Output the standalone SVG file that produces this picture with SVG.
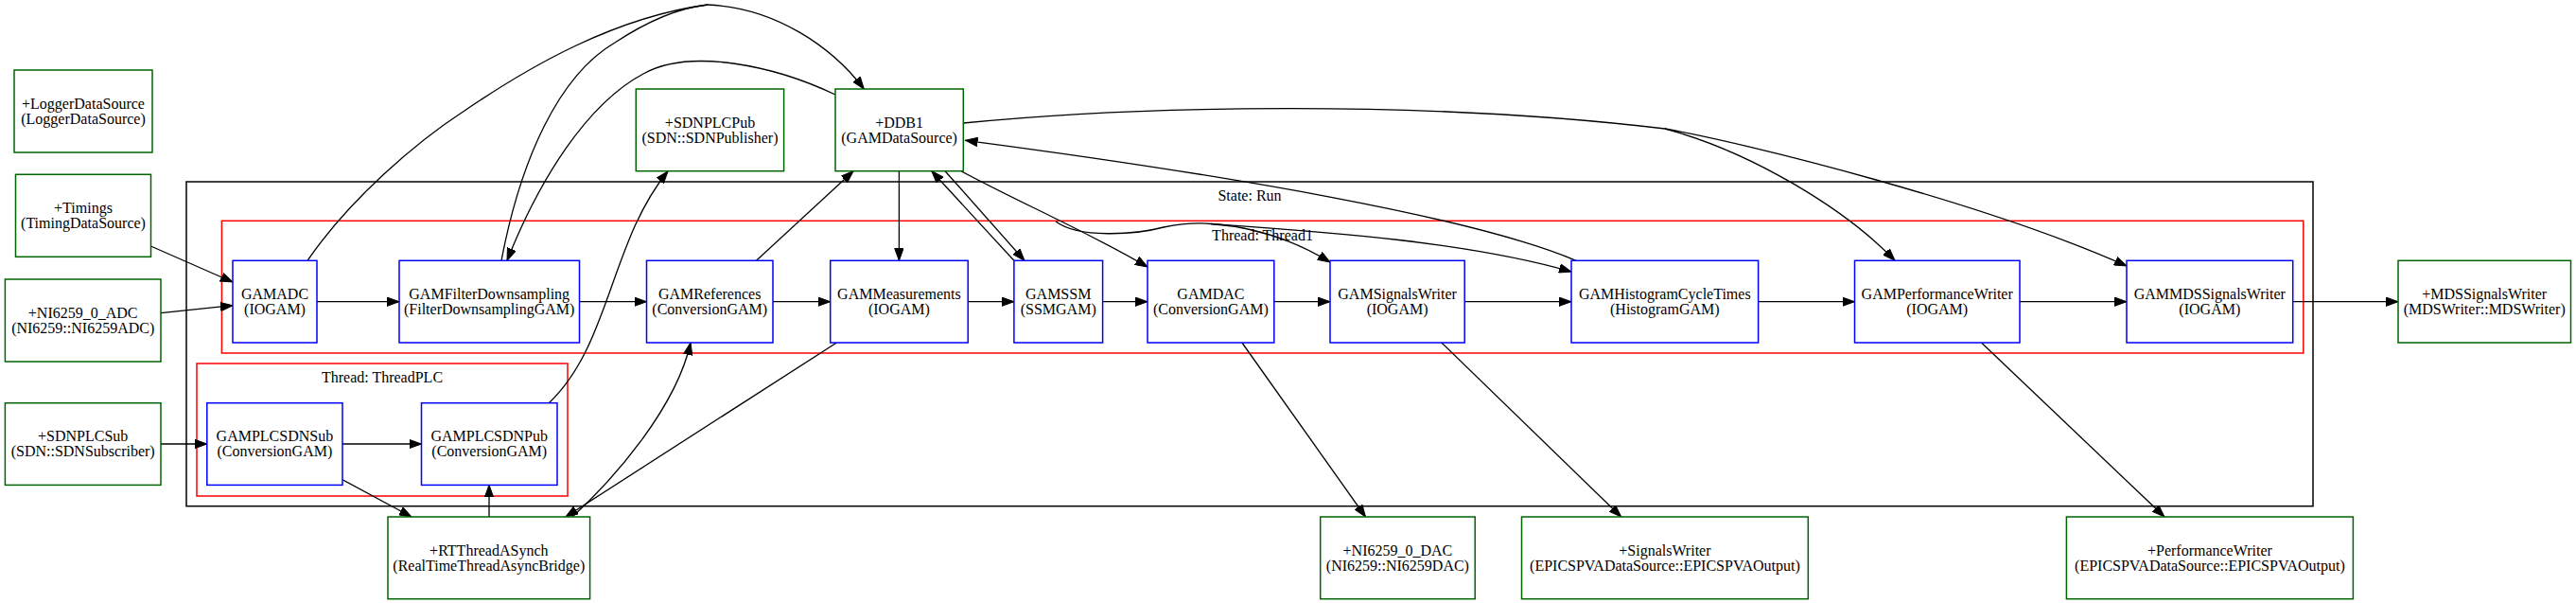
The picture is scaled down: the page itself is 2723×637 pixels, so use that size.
<svg xmlns="http://www.w3.org/2000/svg" width="2723" height="637" viewBox="0 0 2723 637">
<style>
text{font-family:"Liberation Serif","Times New Roman",serif;font-size:16px;fill:#000;text-anchor:middle}
.g{fill:#fff;stroke:#006400;stroke-width:1.5}
.b{fill:#fff;stroke:#0000ff;stroke-width:1.5}
.cl{fill:none;stroke-width:1.5}
.e{fill:none;stroke:#000;stroke-width:1.3}
.a{marker-end:url(#ah)}
</style>
<defs>
<marker id="ah" viewBox="0 0 14 10" markerWidth="14" markerHeight="10" refX="13" refY="5" orient="auto" markerUnits="userSpaceOnUse">
<path d="M0,0.3 L13,5 L0,9.7 z" fill="#000" stroke="#000" stroke-width="1"/>
</marker>
</defs>
<rect width="2723" height="637" fill="#fff"/>

<g id="cluster_run">
<rect class="cl" x="197" y="192" width="2248" height="342.7" stroke="#000"/>
<text x="1321" y="211.5">State: Run</text>
</g>
<g id="cluster_thread1">
<rect class="cl" x="234.4" y="233.3" width="2200.4" height="139.7" stroke="#ff0000"/>
<text x="1334.5" y="254">Thread: Thread1</text>
</g>
<g id="cluster_threadplc">
<rect class="cl" x="208" y="384" width="392" height="140" stroke="#ff0000"/>
<text x="404" y="404">Thread: ThreadPLC</text>
</g>

<g id="connectors">
<path class="e a" d="M159.4,260 L246,298"/>
<path class="e a" d="M170,330.7 L246,322.7"/>
<path class="e a" d="M170,469 L218.8,469"/>
<path class="e a" d="M362,469 L445.5,469"/>
<path class="e a" d="M362,506.7 L435,546"/>
<path class="e a" d="M517,546 L517,512.3"/>
<path class="e a" d="M884.4,362 L598,546"/>
<path class="e a" d="M605,546 C650,505 715,430 730,362"/>
<path class="e a" d="M580,426 C645,365 645,255 706,181"/>
<path class="e a" d="M335,318.7 L422,318.7"/>
<path class="e a" d="M612.5,318.7 L683.5,318.7"/>
<path class="e a" d="M817,318.7 L877.7,318.7"/>
<path class="e a" d="M1023.2,318.7 L1071.9,318.7"/>
<path class="e a" d="M1165.6,318.7 L1213,318.7"/>
<path class="e a" d="M1346.8,318.7 L1406,318.7"/>
<path class="e a" d="M1548.2,318.7 L1661,318.7"/>
<path class="e a" d="M1858.6,318.7 L1960.5,318.7"/>
<path class="e a" d="M2135,318.7 L2248,318.7"/>
<path class="e a" d="M2423.7,318.7 L2535,318.7"/>
<path class="e a" d="M799.5,275.3 L902,180.7"/>
<path class="e a" d="M950.4,180.7 L950.4,275.3"/>
<path class="e a" d="M1071.9,275.3 L984.8,180.7"/>
<path class="e a" d="M999,180.7 L1083,275.3"/>
<path class="e a" d="M1016,180.7 C1080,215 1150,245 1213,282"/>
<path class="e" d="M1116,234 C1140,252 1200,248 1230,240 C1250,236 1265,235 1280,236.5"/>
<path class="e a" d="M1280,236.5 C1330,240 1370,255 1406,277"/>
<path class="e a" d="M1280,236.5 C1400,245 1550,255 1661,287"/>
<path class="e a" d="M1666,275.3 C1560,230 1300,185 1020.5,148.3"/>
<path class="e" d="M1018.3,130 C1200,112 1500,105 1760,136"/>
<path class="e a" d="M1760,136 C1850,160 1950,220 2003,275.3"/>
<path class="e a" d="M1760,136 C1850,152 2100,215 2248,281"/>
<path class="e" d="M325,275.3 C370,210 440,150 491,117 C560,70 650,18 748,5"/>
<path class="e" d="M530,275.3 C550,170 590,80 650,45 C685,22 720,8 748,5"/>
<path class="e a" d="M748,5 C820,8 880,50 913.3,94"/>
<path class="e a" d="M883,100 C820,70 730,50 680,78 C620,110 570,190 536,275.3"/>
<path class="e a" d="M1312.9,362 L1443.5,546"/>
<path class="e a" d="M1523.8,362 L1713.7,546"/>
<path class="e a" d="M2094.5,362 L2288,546"/>
</g>

<g id="LoggerDataSource"><rect class="g" x="15" y="74" width="146" height="87"/><text x="88" y="114.5">+LoggerDataSource</text><text x="88" y="130.5">(LoggerDataSource)</text></g>
<g id="Timings"><rect class="g" x="16.5" y="184.3" width="143" height="87"/><text x="88" y="224.8">+Timings</text><text x="88" y="240.8">(TimingDataSource)</text></g>
<g id="NI6259_0_ADC"><rect class="g" x="5.4" y="295" width="164.6" height="87"/><text x="87.7" y="335.5">+NI6259_0_ADC</text><text x="87.7" y="351.5">(NI6259::NI6259ADC)</text></g>
<g id="SDNPLCSub"><rect class="g" x="5.4" y="425.7" width="164.6" height="86.7"/><text x="87.7" y="466.2">+SDNPLCSub</text><text x="87.7" y="482.2">(SDN::SDNSubscriber)</text></g>
<g id="SDNPLCPub"><rect class="g" x="672.3" y="94" width="156.3" height="86.7"/><text x="750.5" y="134.5">+SDNPLCPub</text><text x="750.5" y="150.5">(SDN::SDNPublisher)</text></g>
<g id="DDB1"><rect class="g" x="883" y="94" width="135.3" height="86.7"/><text x="950.6" y="134.5">+DDB1</text><text x="950.6" y="150.5">(GAMDataSource)</text></g>
<g id="RTThreadASynch"><rect class="g" x="410" y="546" width="213.6" height="86.7"/><text x="516.8" y="586.5">+RTThreadASynch</text><text x="516.8" y="602.5">(RealTimeThreadAsyncBridge)</text></g>
<g id="NI6259_0_DAC"><rect class="g" x="1395.7" y="546" width="163.5" height="86.7"/><text x="1477.4" y="586.5">+NI6259_0_DAC</text><text x="1477.4" y="602.5">(NI6259::NI6259DAC)</text></g>
<g id="SignalsWriter"><rect class="g" x="1608.5" y="546" width="302.8" height="86.7"/><text x="1759.9" y="586.5">+SignalsWriter</text><text x="1759.9" y="602.5">(EPICSPVADataSource::EPICSPVAOutput)</text></g>
<g id="PerformanceWriter"><rect class="g" x="2184.4" y="546" width="303" height="86.7"/><text x="2335.9" y="586.5">+PerformanceWriter</text><text x="2335.9" y="602.5">(EPICSPVADataSource::EPICSPVAOutput)</text></g>
<g id="MDSSignalsWriter"><rect class="g" x="2535" y="275.3" width="182.5" height="86.7"/><text x="2626.2" y="315.8">+MDSSignalsWriter</text><text x="2626.2" y="331.8">(MDSWriter::MDSWriter)</text></g>

<g id="GAMADC"><rect class="b" x="246" y="275.3" width="89" height="86.7"/><text x="290.5" y="315.8">GAMADC</text><text x="290.5" y="331.8">(IOGAM)</text></g>
<g id="GAMFilterDownsampling"><rect class="b" x="422" y="275.3" width="190.5" height="86.7"/><text x="517.2" y="315.8">GAMFilterDownsampling</text><text x="517.2" y="331.8">(FilterDownsamplingGAM)</text></g>
<g id="GAMReferences"><rect class="b" x="683.5" y="275.3" width="133.5" height="86.7"/><text x="750.2" y="315.8">GAMReferences</text><text x="750.2" y="331.8">(ConversionGAM)</text></g>
<g id="GAMMeasurements"><rect class="b" x="877.7" y="275.3" width="145.5" height="86.7"/><text x="950.4" y="315.8">GAMMeasurements</text><text x="950.4" y="331.8">(IOGAM)</text></g>
<g id="GAMSSM"><rect class="b" x="1071.9" y="275.3" width="93.7" height="86.7"/><text x="1118.7" y="315.8">GAMSSM</text><text x="1118.7" y="331.8">(SSMGAM)</text></g>
<g id="GAMDAC"><rect class="b" x="1213" y="275.3" width="133.8" height="86.7"/><text x="1279.9" y="315.8">GAMDAC</text><text x="1279.9" y="331.8">(ConversionGAM)</text></g>
<g id="GAMSignalsWriter"><rect class="b" x="1406" y="275.3" width="142.2" height="86.7"/><text x="1477.1" y="315.8">GAMSignalsWriter</text><text x="1477.1" y="331.8">(IOGAM)</text></g>
<g id="GAMHistogramCycleTimes"><rect class="b" x="1661" y="275.3" width="197.6" height="86.7"/><text x="1759.8" y="315.8">GAMHistogramCycleTimes</text><text x="1759.8" y="331.8">(HistogramGAM)</text></g>
<g id="GAMPerformanceWriter"><rect class="b" x="1960.5" y="275.3" width="174.5" height="86.7"/><text x="2047.7" y="315.8">GAMPerformanceWriter</text><text x="2047.7" y="331.8">(IOGAM)</text></g>
<g id="GAMMDSSignalsWriter"><rect class="b" x="2248" y="275.3" width="175.7" height="86.7"/><text x="2335.8" y="315.8">GAMMDSSignalsWriter</text><text x="2335.8" y="331.8">(IOGAM)</text></g>
<g id="GAMPLCSDNSub"><rect class="b" x="218.8" y="425.7" width="143.2" height="86.7"/><text x="290.4" y="466.2">GAMPLCSDNSub</text><text x="290.4" y="482.2">(ConversionGAM)</text></g>
<g id="GAMPLCSDNPub"><rect class="b" x="445.5" y="425.7" width="143.5" height="86.7"/><text x="517.2" y="466.2">GAMPLCSDNPub</text><text x="517.2" y="482.2">(ConversionGAM)</text></g>
</svg>
